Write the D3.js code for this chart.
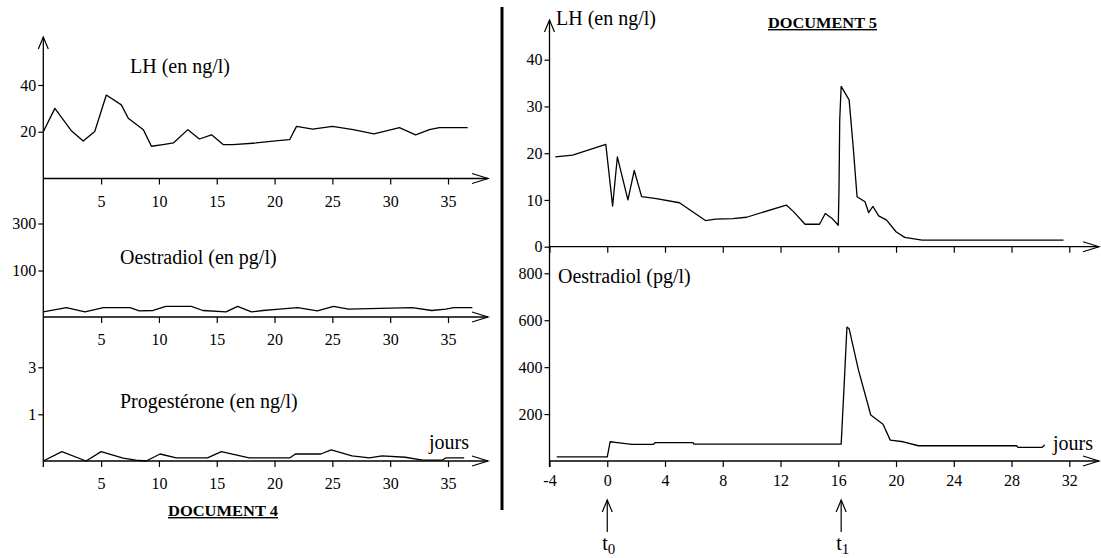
<!DOCTYPE html>
<html lang="fr">
<head>
<meta charset="UTF-8">
<script src="https://d3js.org/d3.v7.min.js"></script>
<style>
  body { margin: 0; background: #fff; }
  svg { display: block; }
  text { font-family: "Liberation Serif", "Times New Roman", serif; fill: #000; }
</style>
</head>
<body>
<script>

// ---- DOCUMENT 4 : cycle sans contraception (jours 0-37)
const doc4Days = [5, 10, 15, 20, 25, 30, 35];
const doc4LH = [[0,20],[1,30],[2.45,20.3],[3.45,16],[4.45,20.1],[5.45,35.7],[6.75,31.5],[7.35,25.8],[8.65,20.9],
  [9.35,13.8],[10.35,14.5],[11.25,15.2],[12.5,20.9],[13.5,16.9],[14.55,18.7],[15.55,14.5],[16.4,14.5],[18.4,15.2],
  [20.3,16.2],[21.3,16.6],[21.9,22.3],[23.3,21.1],[25,22.3],[26.8,20.9],[28.6,19.1],[30.8,21.8],[32.2,18.7],
  [33.4,20.9],[34.25,21.8],[36.7,21.8]];
const doc4Oe = [[0,11],[2,20],[3.6,11],[5.2,20],[7.5,20],[8.3,13],[9.5,14],[10.6,23],[12.8,23],[13.8,14],[15.8,11],
  [16.8,23],[18,11],[19,14],[20.4,17],[22,20],[23.7,13],[25.1,23],[26.4,17],[31.9,20],[33.6,14],[34.8,17],[35.5,20],[37.1,20]];
const doc4Pr = [[0,0],[1.6,0.2],[3.7,0],[5,0.2],[6.9,0.06],[8,0.02],[8.9,0],[10.1,0.15],[11.5,0.065],[14.2,0.065],
  [15.4,0.2],[17.8,0.065],[21.3,0.065],[21.8,0.15],[24,0.15],[24.9,0.24],[26.7,0.11],[28.2,0.065],[29.3,0.11],
  [31.3,0.08],[32.8,0.02],[34.5,0.02],[34.8,0.065],[36.4,0.065]];
const doc4LHTicks = [20, 40];
const doc4OeTicks = [100, 300];
const doc4PrTicks = [1, 3];

// ---- DOCUMENT 5 : pilule arrêtée en t0 (jours -4 à 32)
const doc5Days = [-4, 0, 4, 8, 12, 16, 20, 24, 28, 32];
const doc5LH = [[-3.6,19.2],[-2.4,19.6],[-0.1,21.9],[0.37,8.7],[0.7,19.2],[1.43,10],[1.87,16.3],[2.38,10.7],[3.4,10.3],
  [5,9.4],[6.8,5.6],[7.5,5.9],[8.7,6],[9.65,6.3],[12.4,8.9],[12.9,7.5],[13.7,4.8],[14.7,4.8],[15.1,7.1],[15.55,6.1],
  [16,4.6],[16.05,12.1],[16.1,27.1],[16.2,34.3],[16.75,31.4],[17.05,20.7],[17.3,10.7],[17.85,9.6],[18.1,7.3],
  [18.4,8.6],[18.8,6.6],[19.35,5.7],[20,3.2],[20.6,2],[21.8,1.4],[31.6,1.4]];
const doc5Oe = [[-3.5,18],[0,18],[0.2,82],[0.7,78],[1.7,71],[3.2,71],[3.3,78],[5.95,78],[6,72],[16.2,72],[16.4,316],
  [16.6,571],[16.75,564],[17.4,387],[18.25,196],[19.1,157],[19.6,89],[20.5,82],[21.55,65],[28.35,65],[28.45,58],
  [30.1,58],[30.3,68]];
const doc5LHTicks = [0, 10, 20, 30, 40];
const doc5OeTicks = [200, 400, 600, 800];
const doc5Events = [{ day: 0, sub: "0" }, { day: 16.2, sub: "1" }];

const W = 1101, H = 558;
const svg = d3.select("body").append("svg").attr("width", W).attr("height", H);

const serif = '"Liberation Serif", "Times New Roman", serif';

function arrowUp(g, x, y) {
  g.append("path").attr("d", `M${x - 5},${y + 12}L${x},${y}L${x + 5},${y + 12}`)
    .attr("fill", "none").attr("stroke", "#000").attr("stroke-width", 1.2);
}
function arrowRight(g, x, y) {
  g.append("path").attr("d", `M${x - 16},${y - 5}L${x},${y}L${x - 16},${y + 5}`)
    .attr("fill", "none").attr("stroke", "#000").attr("stroke-width", 1.2);
}
function hline(g, x1, x2, y) {
  g.append("line").attr("x1", x1).attr("x2", x2).attr("y1", y).attr("y2", y)
    .attr("stroke", "#000").attr("stroke-width", 1.3);
}
function label(g, x, y, txt, size) {
  return g.append("text").attr("x", x).attr("y", y)
    .style("font-family", serif).style("font-size", size + "px").text(txt);
}
function styleAxis(sel, size) {
  sel.attr("font-family", null);
  sel.select(".domain").remove();
  sel.selectAll("line").attr("stroke", "#000").attr("stroke-width", 1.2);
  sel.selectAll("text").style("font-family", serif).style("font-size", size + "px").attr("fill", "#000");
}
function drawLine(g, data, x, y) {
  g.append("path").datum(data)
    .attr("d", d3.line().x(d => x(d[0])).y(d => y(d[1])))
    .attr("fill", "none").attr("stroke", "#000").attr("stroke-width", 1.3)
    .attr("stroke-linejoin", "round");
}

// ================= DOCUMENT 4 =================
const g4 = svg.append("g");
const x4 = d3.scaleLinear().domain([0, 35]).range([43.3, 448]);
const y4LH = d3.scaleLinear().domain([0, 40]).range([178.5, 85]);
const y4Oe = d3.scaleLinear().domain([0, 100, 300]).range([317, 270.5, 223.5]);
const y4Pr = d3.scaleLinear().domain([0, 1, 3]).range([461, 414.3, 367.3]);

// vertical axis
g4.append("line").attr("x1", x4(0)).attr("x2", x4(0)).attr("y1", 37).attr("y2", 467)
  .attr("stroke", "#000").attr("stroke-width", 1.3);
arrowUp(g4, x4(0), 37);

[[y4LH, doc4LHTicks], [y4Oe, doc4OeTicks], [y4Pr, doc4PrTicks]].forEach(([ys, ticks]) => {
  const base = ys(0);
  hline(g4, x4(0), 488, base);
  arrowRight(g4, 488, base);
  g4.append("g").attr("transform", `translate(0,${base})`)
    .call(d3.axisBottom(x4).tickValues(doc4Days).tickSize(6).tickPadding(11).tickFormat(d => String(d)))
    .call(s => styleAxis(s, 16));
  g4.append("g").attr("transform", `translate(${x4(0)},0)`)
    .call(d3.axisLeft(ys).tickValues(ticks).tickSize(5).tickPadding(2).tickFormat(d => String(d)))
    .call(s => styleAxis(s, 16));
});

drawLine(g4, doc4LH, x4, y4LH);
drawLine(g4, doc4Oe, x4, y4Oe);
drawLine(g4, doc4Pr, x4, y4Pr);

label(g4, 130, 73, "LH (en ng/l)", 20);
label(g4, 120, 264, "Oestradiol (en pg/l)", 20);
label(g4, 120, 408, "Progestérone (en ng/l)", 20);
label(g4, 429, 449, "jours", 20);
label(g4, 168, 516, "DOCUMENT 4", 14)
  .style("font-weight", "bold").style("text-decoration", "underline")
  .attr("textLength", 110).attr("lengthAdjust", "spacingAndGlyphs");

// separator
svg.append("line").attr("x1", 502).attr("x2", 502).attr("y1", 7).attr("y2", 510)
  .attr("stroke", "#000").attr("stroke-width", 3);

// ================= DOCUMENT 5 =================
const g5 = svg.append("g");
const x5 = d3.scaleLinear().domain([-4, 32]).range([549.5, 1069.3]);
const y5LH = d3.scaleLinear().domain([0, 40]).range([246.7, 59.7]);
const y5Oe = d3.scaleLinear().domain([0, 800]).range([461, 273.3]);

g5.append("line").attr("x1", x5(-4)).attr("x2", x5(-4)).attr("y1", 20).attr("y2", 467)
  .attr("stroke", "#000").attr("stroke-width", 1.3);
arrowUp(g5, x5(-4), 20);

[[y5LH, doc5LHTicks, false], [y5Oe, doc5OeTicks, true]].forEach(([ys, ticks, showDays]) => {
  const base = ys(0);
  hline(g5, x5(-4), 1099, base);
  arrowRight(g5, 1099, base);
  g5.append("g").attr("transform", `translate(0,${base})`)
    .call(d3.axisBottom(x5).tickValues(doc5Days).tickSize(6).tickPadding(8)
      .tickFormat(d => showDays ? String(d) : ""))
    .call(s => styleAxis(s, 16));
  g5.append("g").attr("transform", `translate(${x5(-4)},0)`)
    .call(d3.axisLeft(ys).tickValues(ticks).tickSize(5).tickPadding(2).tickFormat(d => String(d)))
    .call(s => styleAxis(s, 16));
});

drawLine(g5, doc5LH, x5, y5LH);
drawLine(g5, doc5Oe, x5, y5Oe);

label(g5, 556, 25, "LH (en ng/l)", 20);
label(g5, 558, 283, "Oestradiol (pg/l)", 20);
label(g5, 1053, 450, "jours", 20);
label(g5, 768, 28, "DOCUMENT 5", 14)
  .style("font-weight", "bold").style("text-decoration", "underline")
  .attr("textLength", 109).attr("lengthAdjust", "spacingAndGlyphs");

// t0 / t1 markers
doc5Events.forEach(ev => {
  const x = x5(ev.day);
  g5.append("line").attr("x1", x).attr("x2", x).attr("y1", 532).attr("y2", 500)
    .attr("stroke", "#000").attr("stroke-width", 1.2);
  arrowUp(g5, x, 500);
  const t = label(g5, x - 5, 550, "", 20);
  t.append("tspan").text("t");
  t.append("tspan").attr("dy", 4).style("font-size", "15px").text(ev.sub);
});

</script>
</body>
</html>
